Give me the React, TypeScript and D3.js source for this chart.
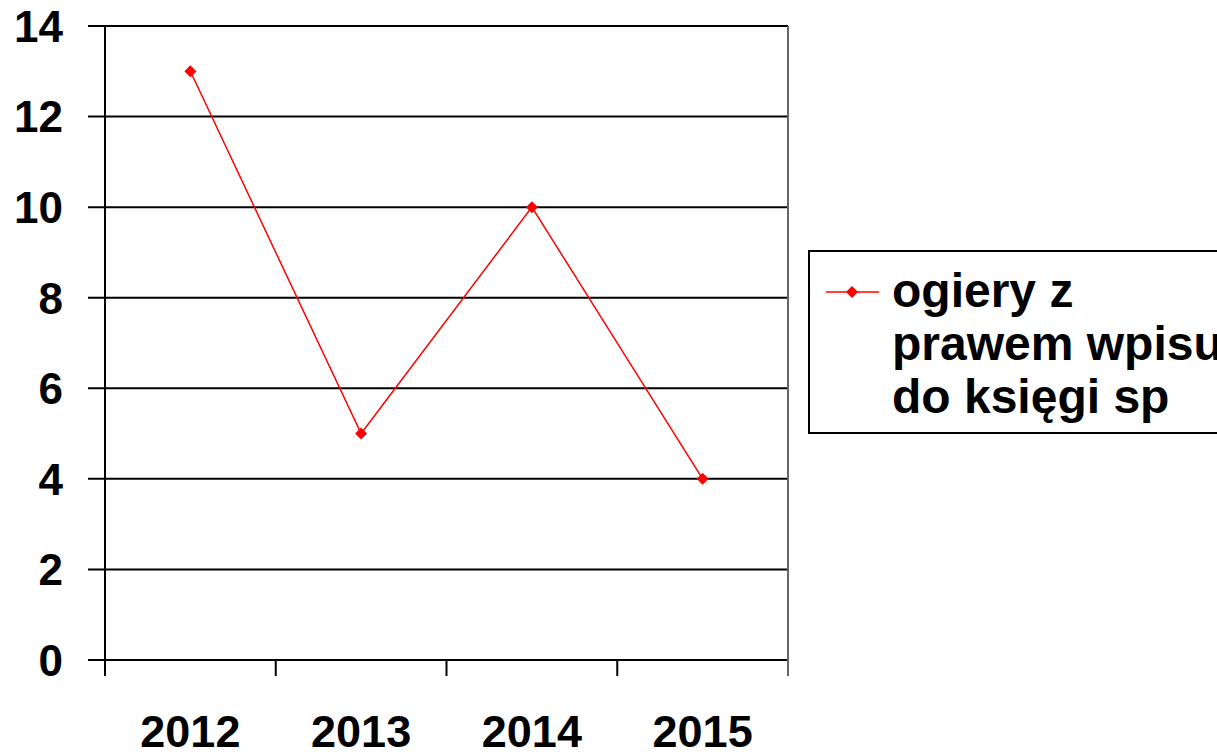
import React from "react";
import * as d3 from "d3";

const categories = ["2012", "2013", "2014", "2015"];
const values = [13, 5, 10, 4];
const yTicks = [0, 2, 4, 6, 8, 10, 12, 14];
const seriesName = ["ogiery z", "prawem wpisu", "do księgi sp"];

export default function App() {
  const W = 1217, H = 754;
  const left = 105, right = 788, top = 26, bottom = 660;
  const x = d3.scaleBand<string>().domain(categories).range([left, right]).padding(0);
  const y = d3.scaleLinear().domain([0, 14]).range([bottom, top]);
  const font = "'Liberation Sans', Arial, sans-serif";
  const line = d3.line<number>()
    .x((_, i) => (x(categories[i]) as number) + x.bandwidth() / 2)
    .y((d) => y(d));
  const diamond = (cx: number, cy: number, r: number) =>
    `M${cx},${cy - r}L${cx + r},${cy}L${cx},${cy + r}L${cx - r},${cy}Z`;
  const boundaries = [...categories.map((c) => x(c) as number), right];
  return (
    <div style={{ position: "fixed", left: 0, top: 0 }}>
      <svg width={W} height={H} style={{ display: "block", background: "#fff" }}>
        {yTicks.map((t) => (
          <g key={t}>
            <line x1={88} x2={right} y1={y(t)} y2={y(t)} stroke="#000" strokeWidth={2} />
            <text x={63} y={y(t)} dy="0.36em" textAnchor="end" fontFamily={font} fontWeight="bold" fontSize={44} fill="#000">{t}</text>
          </g>
        ))}
        <line x1={left} x2={left} y1={top} y2={676} stroke="#000" strokeWidth={2} />
        <line x1={right} x2={right} y1={top} y2={676} stroke="#666" strokeWidth={2} />
        {boundaries.slice(1, -1).map((b, i) => (
          <line key={i} x1={b} x2={b} y1={bottom} y2={676} stroke="#000" strokeWidth={2} />
        ))}
        {categories.map((c) => (
          <text key={c} x={(x(c) as number) + x.bandwidth() / 2} y={747} textAnchor="middle" fontFamily={font} fontWeight="bold" fontSize={45} fill="#000">{c}</text>
        ))}
        <path d={line(values) || ""} fill="none" stroke="#ff0000" strokeWidth={1.5} />
        {values.map((v, i) => (
          <path key={i} d={diamond((x(categories[i]) as number) + x.bandwidth() / 2, y(v), 6)} fill="#ff0000" />
        ))}
        <rect x={809} y={251} width={420} height={182} fill="#fff" stroke="#000" strokeWidth={2} />
        <line x1={826} x2={879} y1={292} y2={292} stroke="#ff0000" strokeWidth={1.5} />
        <path d={diamond(852, 292, 6)} fill="#ff0000" />
        {seriesName.map((s, i) => (
          <text key={i} x={892} y={307 + i * 53} fontFamily={font} fontWeight="bold" fontSize={48} fill="#000">{s}</text>
        ))}
      </svg>
    </div>
  );
}
